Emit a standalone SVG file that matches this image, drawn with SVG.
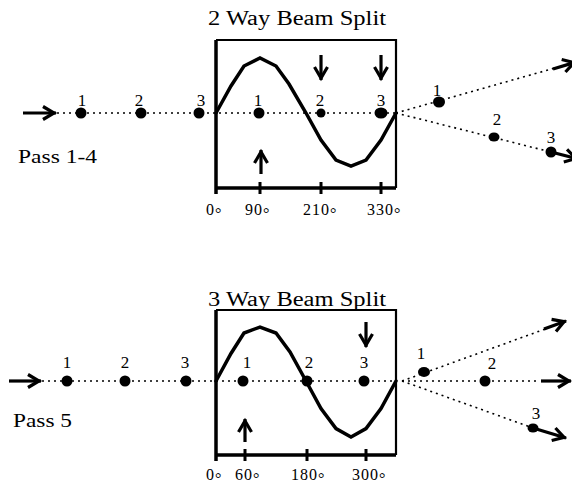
<svg xmlns="http://www.w3.org/2000/svg" width="572" height="488" viewBox="0 0 572 488">
<style>
.t{font-family:"Liberation Serif","Times New Roman",serif;fill:#000}
.ttl{font-size:20px}
.pass{font-size:19px}
.num{font-size:17px;text-anchor:middle}
.deg{font-size:16px;letter-spacing:1px}
.beam{stroke:#000;stroke-width:1.6;stroke-dasharray:2 4;fill:none}
.wave{stroke:#000;stroke-width:3.5;fill:none;stroke-linejoin:miter;stroke-linecap:round}
.frame{stroke:#000;stroke-width:2.2;fill:none}
.heavy{stroke:#000;stroke-width:3.5;fill:none}
.tick{stroke:#000;stroke-width:3}
.arr{stroke:#000;stroke-width:3.2;fill:none;marker-end:url(#ah)}
</style>
<defs>
<marker id="ah" viewBox="0 0 18 16" refX="15" refY="8" markerWidth="18" markerHeight="16" markerUnits="userSpaceOnUse" orient="auto" overflow="visible">
<path d="M2,1.5 L13,8 L2,14.5" fill="none" stroke="#000" stroke-width="3.2"/>
</marker>
</defs>

<g id="top-split">
<text class="t ttl" x="208" y="25" textLength="178" lengthAdjust="spacingAndGlyphs">2 Way Beam Split</text>
<text class="t pass" x="18" y="163" textLength="79" lengthAdjust="spacingAndGlyphs">Pass 1-4</text>
<path class="frame" d="M216,40 H396 V188"/>
<path class="heavy" d="M216,40 V194 M216,188 H396"/>
<path class="tick" d="M260,182 V194 M321,182 V194 M381,182 V194"/>
<polyline class="wave" points="216,113 231,86 244,66 260,58 276,66 289,84 306,113 321,140 336,160 351,166 366,160 381,140 396,113"/>
<text class="t deg" x="206" y="215">0<tspan dy="4">°</tspan></text>
<text class="t deg" x="245" y="215">90<tspan dy="4">°</tspan></text>
<text class="t deg" x="303" y="215">210<tspan dy="4">°</tspan></text>
<text class="t deg" x="367" y="215">330<tspan dy="4">°</tspan></text>
</g>

<g id="top-dots">
<circle cx="81" cy="113" r="5.5"/><circle cx="141" cy="113" r="5.5"/><circle cx="199" cy="113" r="5.5"/>
<circle cx="259" cy="113" r="5.5"/><circle cx="321" cy="113" r="4.5"/><ellipse cx="381" cy="113" rx="6.5" ry="5.5"/>
<ellipse cx="439" cy="102" rx="6" ry="5.5"/><ellipse cx="494" cy="137" rx="5.5" ry="4.5"/><circle cx="551" cy="152" r="5.5"/>
<text class="t num" x="82" y="106">1</text><text class="t num" x="139" y="106">2</text><text class="t num" x="201" y="106">3</text>
<text class="t num" x="258" y="106">1</text><text class="t num" x="320" y="106">2</text><text class="t num" x="381" y="106">3</text>
<text class="t num" x="437" y="96">1</text><text class="t num" x="497" y="125">2</text><text class="t num" x="551" y="143">3</text>
</g>

<g id="bottom-split">
<text class="t ttl" x="208" y="306" textLength="178" lengthAdjust="spacingAndGlyphs">3 Way Beam Split</text>
<text class="t pass" x="13" y="427" textLength="59" lengthAdjust="spacingAndGlyphs">Pass 5</text>
<path class="frame" d="M216,310 H396 V455"/>
<path class="heavy" d="M216,310 V461 M216,455 H396"/>
<path class="tick" d="M245,449 V461 M307,449 V461 M366,449 V461"/>
<polyline class="wave" points="216,381 231,353.5 244,333 260,327 276,333 290,352 306,381 321,408.5 336,428.6 351,437 366,428.6 381,408.5 396,381"/>
<text class="t deg" x="206" y="480">0<tspan dy="4">°</tspan></text>
<text class="t deg" x="235" y="480">60<tspan dy="4">°</tspan></text>
<text class="t deg" x="291" y="480">180<tspan dy="4">°</tspan></text>
<text class="t deg" x="352" y="480">300<tspan dy="4">°</tspan></text>
</g>

<g id="bottom-dots">
<circle cx="67" cy="381" r="5.5"/><circle cx="125" cy="381" r="5.5"/><circle cx="186" cy="381" r="5.5"/>
<circle cx="243" cy="381" r="5.5"/><circle cx="307" cy="381" r="5.5"/><circle cx="364" cy="381" r="5.5"/>
<ellipse cx="424" cy="372" rx="6" ry="5"/><circle cx="485" cy="381" r="5.5"/><ellipse cx="533" cy="428" rx="5.5" ry="4.5"/>
<text class="t num" x="67" y="368">1</text><text class="t num" x="125" y="368">2</text><text class="t num" x="185" y="368">3</text>
<text class="t num" x="247" y="368">1</text><text class="t num" x="309" y="368">2</text><text class="t num" x="364" y="368">3</text>
<text class="t num" x="421" y="359">1</text><text class="t num" x="492" y="369">2</text><text class="t num" x="536" y="419">3</text>
</g>

<g id="connectors">
<line class="arr" x1="23" y1="113" x2="56" y2="113"/>
<line class="beam" x1="57" y1="113" x2="396" y2="113"/>
<line class="arr" x1="321" y1="55" x2="321" y2="80"/>
<line class="arr" x1="381" y1="55" x2="381" y2="80"/>
<line class="arr" x1="261" y1="174" x2="261" y2="150"/>
<line class="beam" x1="396" y1="113" x2="555" y2="68"/>
<line class="arr" x1="553" y1="69" x2="576" y2="62"/>
<line class="beam" x1="396" y1="113" x2="551" y2="152"/>
<line class="arr" x1="551" y1="152" x2="578" y2="159"/>

<line class="arr" x1="9" y1="381" x2="41" y2="381"/>
<line class="beam" x1="42" y1="381" x2="396" y2="381"/>
<line class="arr" x1="366" y1="322" x2="366" y2="347"/>
<line class="arr" x1="245" y1="442" x2="245" y2="419"/>
<line class="beam" x1="402" y1="381" x2="548" y2="328"/>
<line class="arr" x1="544" y1="329" x2="566" y2="321"/>
<line class="beam" x1="402" y1="381" x2="540" y2="381"/>
<line class="arr" x1="541" y1="381" x2="571" y2="381"/>
<line class="beam" x1="402" y1="381" x2="533" y2="428"/>
<line class="arr" x1="533" y1="428" x2="566" y2="438"/>
</g>
</svg>
